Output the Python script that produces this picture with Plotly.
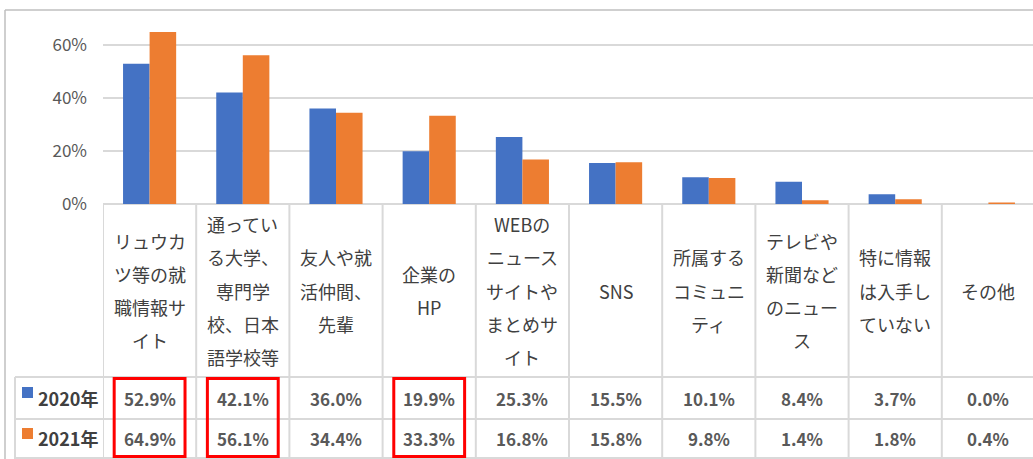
import plotly.graph_objects as go

categories = [
    ["リュウカ", "ツ等の就", "職情報サ", "イト"],
    ["通ってい", "る大学、", "専門学", "校、日本", "語学校等"],
    ["友人や就", "活仲間、", "先輩"],
    ["企業の", "HP"],
    ["WEBの", "ニュース", "サイトや", "まとめサ", "イト"],
    ["SNS"],
    ["所属する", "コミュニ", "ティ"],
    ["テレビや", "新聞など", "のニュー", "ス"],
    ["特に情報", "は入手し", "ていない"],
    ["その他"],
]
series_names = ["2020年", "2021年"]
values_2020 = [52.9, 42.1, 36.0, 19.9, 25.3, 15.5, 10.1, 8.4, 3.7, 0.0]
values_2021 = [64.9, 56.1, 34.4, 33.3, 16.8, 15.8, 9.8, 1.4, 1.8, 0.4]
highlighted = [0, 1, 3]
y_ticks = [0, 0.2, 0.4, 0.6]

W, H = 1033, 459
BLUE, ORANGE = "#4472C4", "#ED7D31"
GRID = "#D9D9D9"
FONT = "Noto Sans CJK JP"


def py(p):
    return (H - p) / H


def px(p):
    return p / W


x_idx = list(range(len(categories)))
col_w = 93.2
x_range = [-0.5, len(categories) - 0.5 - 2 / col_w]

fig = go.Figure()
for name, vals, color in [(series_names[0], values_2020, BLUE),
                          (series_names[1], values_2021, ORANGE)]:
    fig.add_trace(go.Bar(x=x_idx, y=[v / 100 for v in vals], name=name,
                         marker=dict(color=color, line=dict(width=0))))

shapes = []
# frame
shapes.append(dict(type="line", xref="paper", yref="paper", x0=px(5), x1=1,
                   y0=py(10), y1=py(10), line=dict(color="#BFBFBF", width=1.5)))
shapes.append(dict(type="line", xref="paper", yref="paper", x0=px(5), x1=px(5),
                   y0=py(10), y1=py(459), line=dict(color="#BFBFBF", width=1.5)))
# table vertical lines
for k in range(len(categories)):
    shapes.append(dict(type="line", xref="x", yref="paper", x0=k - 0.5, x1=k - 0.5,
                       y0=py(204), y1=py(459), line=dict(color=GRID, width=2)))
shapes.append(dict(type="line", xref="paper", yref="paper", x0=px(15), x1=px(15),
                   y0=py(377), y1=py(459), line=dict(color=GRID, width=2)))
# table horizontal lines
for yp in [377, 419, 458]:
    shapes.append(dict(type="line", xref="paper", yref="paper", x0=px(15), x1=1,
                       y0=py(yp), y1=py(yp), line=dict(color=GRID, width=2)))
# legend keys
for color, yc in [(BLUE, 393), (ORANGE, 434)]:
    shapes.append(dict(type="rect", xref="paper", yref="paper", x0=px(22), x1=px(33),
                       y0=py(yc - 6), y1=py(yc + 5), fillcolor=color, line=dict(width=0)))
# red highlight boxes
for k in highlighted:
    shapes.append(dict(type="rect", xref="x", yref="paper", x0=k - 0.38, x1=k + 0.38,
                       y0=py(378.5), y1=py(456.5), line=dict(color="#FF0000", width=3),
                       fillcolor="rgba(0,0,0,0)"))

annotations = []
# category labels
for i, lines in enumerate(categories):
    n = len(lines)
    for j, line in enumerate(lines):
        yc = 290.5 + (j - (n - 1) / 2) * 33
        annotations.append(dict(x=i, y=py(yc), xref="x", yref="paper", text=line,
                                showarrow=False, xanchor="center", yanchor="middle",
                                font=dict(family=FONT, size=18, color="#404040")))
# values rows
for vals, yc in [(values_2020, 398), (values_2021, 438)]:
    for i, v in enumerate(vals):
        annotations.append(dict(x=i, y=py(yc), xref="x", yref="paper", text=f"{v:.1f}%",
                                showarrow=False, xanchor="center", yanchor="middle",
                                font=dict(family=FONT, size=17, color="#595959", weight="bold")))
# row labels
for name, yc in [(series_names[0], 398), (series_names[1], 438)]:
    annotations.append(dict(x=px(36), y=py(yc), xref="paper", yref="paper", text=name,
                            showarrow=False, xanchor="left", yanchor="middle",
                            font=dict(family=FONT, size=18, color="#404040", weight="bold")))

fig.update_layout(
    autosize=True,
    margin=dict(l=0, r=0, t=0, b=0, autoexpand=False),
    paper_bgcolor="white", plot_bgcolor="white",
    showlegend=False,
    barmode="group", bargap=0.43, bargroupgap=0,
    shapes=shapes, annotations=annotations,
    xaxis=dict(domain=[px(103), 1], range=x_range, showticklabels=False,
               showgrid=False, zeroline=False, ticks=""),
    yaxis=dict(domain=[py(204), py(18.5)], range=[0, 0.7], tickvals=y_ticks,
               tickformat=".0%", showgrid=True, gridcolor=GRID, gridwidth=1.5,
               zeroline=True, zerolinecolor=GRID, zerolinewidth=2,
               ticklabelstandoff=15,
               tickfont=dict(family=FONT, size=17, color="#595959")),
    font=dict(family=FONT),
)

post = (
    "document.documentElement.style.margin='0';"
    "document.documentElement.style.overflow='hidden';"
    "document.body.style.margin='0';"
    "document.body.style.overflow='hidden';"
    "var gd=document.getElementById('{plot_id}');"
    "if(gd){Plotly.Plots.resize(gd);}"
)
fig.write_html("out.html", config={"displayModeBar": False, "responsive": True},
               default_width="100vw", default_height="100vh", post_script=post)
